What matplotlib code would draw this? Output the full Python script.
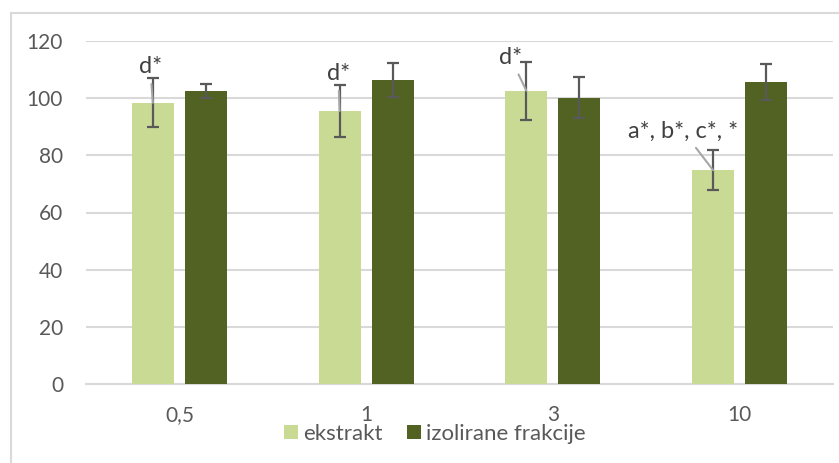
import matplotlib
matplotlib.use("Agg")
import matplotlib.pyplot as plt
from matplotlib.patches import Patch
from matplotlib.lines import Line2D
import numpy as np

# Data
categories = ["0,5", "1", "3", "10"]
ekstrakt = [98.4, 95.5, 102.6, 74.8]
ekstrakt_err = [8.6, 9.0, 10.2, 6.9]
frakcije = [102.5, 106.3, 100.2, 105.7]
frakcije_err = [2.6, 6.0, 7.2, 6.2]
labels_ekstrakt = ["d*", "d*", "d*", "a*, b*, c*, *"]
series_names = ["ekstrakt", "izolirane frakcije"]
y_ticks = [0, 20, 40, 60, 80, 100, 120]

col_light = "#c9da95"
col_dark = "#526223"
grid_col = "#d9d9d9"
text_col = "#595959"

plt.rcParams["font.family"] = ["Lato", "DejaVu Sans"]

W, H, DPI = 839, 463, 100
fig = plt.figure(figsize=(W / DPI, H / DPI), dpi=DPI)

# chart area frame (top and left edges visible)
fig.add_artist(Line2D([10.5 / W, 10.5 / W], [0, 1 - 12.5 / H], transform=fig.transFigure,
                      color=grid_col, lw=1.5))
fig.add_artist(Line2D([10.5 / W, 1], [1 - 12.5 / H, 1 - 12.5 / H], transform=fig.transFigure,
                      color=grid_col, lw=1.5))

ax = fig.add_axes([86 / W, (H - 384) / H, (833 - 86) / W, (384 - 41) / H])

x = np.arange(len(categories))
bw = 0.225
off = 0.142
ebar_kw = dict(ecolor="#595959", elinewidth=1.6, capsize=4.4, capthick=1.6)

b1 = ax.bar(x - off, ekstrakt, bw, color=col_light, yerr=ekstrakt_err,
            error_kw=ebar_kw, zorder=3)
b2 = ax.bar(x + off, frakcije, bw, color=col_dark, yerr=frakcije_err,
            error_kw=ebar_kw, zorder=3)

# data labels with leader lines (offsets in points)
label_offsets = [(-2, 26), (-1, 27), (-11.5, 24), (-21.5, 28)]
for xi, val, txt, (dx, dy) in zip(x, ekstrakt, labels_ekstrakt, label_offsets):
    ax.annotate(txt, xy=(xi - off, val), xytext=(dx, dy), textcoords="offset points",
                ha="center", va="center", fontsize=17, color="#404040",
                arrowprops=dict(arrowstyle="-", color="#a6a6a6", lw=1.5,
                                shrinkA=3, shrinkB=0),
                zorder=5)

ax.set_xlim(-0.5, len(categories) - 0.5)
ax.set_ylim(0, 120)
ax.set_yticks(y_ticks)
ax.set_xticks(x)
ax.set_xticklabels(categories)
ax.yaxis.grid(True, color=grid_col, lw=1.5, zorder=0)
ax.set_axisbelow(True)
for s in ["top", "right", "left"]:
    ax.spines[s].set_visible(False)
ax.spines["bottom"].set_color(grid_col)
ax.spines["bottom"].set_linewidth(1.5)
ax.tick_params(axis="both", length=0, labelsize=15, labelcolor=text_col)
ax.tick_params(axis="y", pad=16.5)
ax.tick_params(axis="x", pad=15)

handles = [Patch(facecolor=col_light), Patch(facecolor=col_dark)]
fig.legend(handles, series_names, loc="center", bbox_to_anchor=(435 / W, (H - 434) / H),
           ncol=2, frameon=False, fontsize=16, labelcolor=text_col,
           handlelength=0.62, handleheight=0.62, handletextpad=0.25, columnspacing=1.1)

fig.savefig("out.png", dpi=DPI)
